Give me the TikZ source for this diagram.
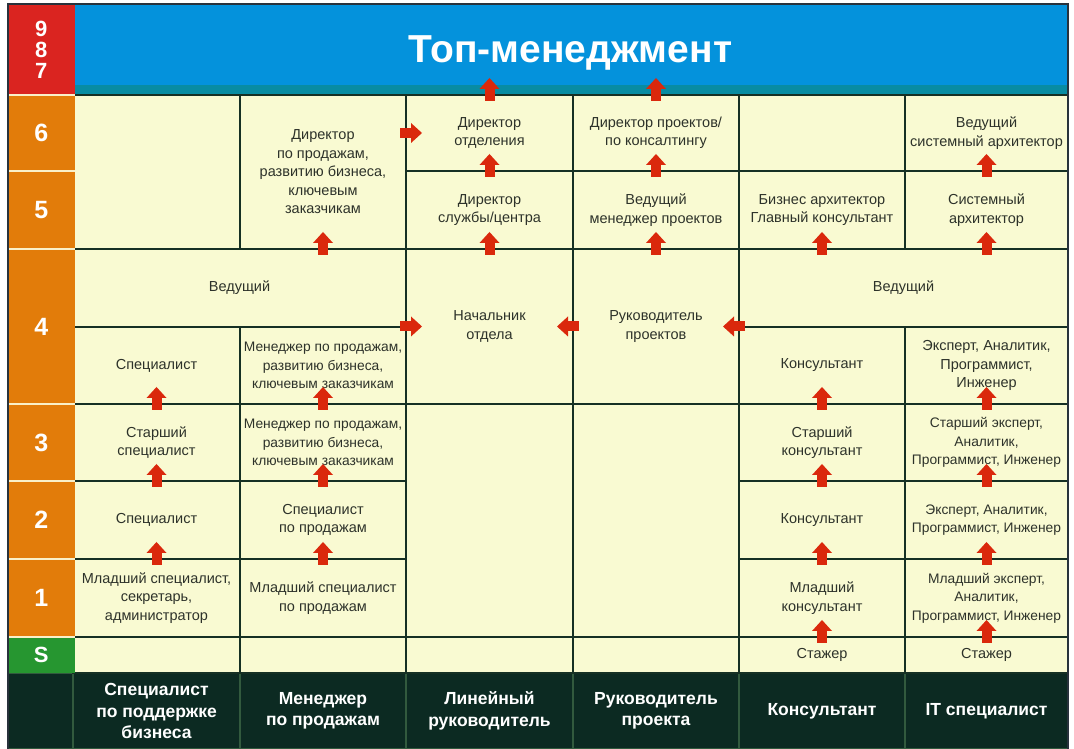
\documentclass[tikz,border=0pt]{standalone}
\usepackage{xcolor}
\usepackage{fontspec}
\setmainfont{Liberation Sans}
\usepackage{tikz}
\usetikzlibrary{arrows.meta}

\definecolor{creamc}{RGB}{249,250,210}
\definecolor{gridc}{RGB}{22,48,36}
\definecolor{textc}{RGB}{45,50,42}
\definecolor{arrowc}{RGB}{218,40,12}
\definecolor{bluec}{RGB}{4,146,220}
\definecolor{tealc}{RGB}{8,140,162}
\definecolor{orangec}{RGB}{226,124,10}
\definecolor{redc}{RGB}{218,36,32}
\definecolor{greenc}{RGB}{38,150,48}
\definecolor{darkc}{RGB}{12,42,34}
\definecolor{headlinec}{RGB}{50,90,62}
\definecolor{sepc}{RGB}{250,240,200}
\definecolor{framec}{RGB}{40,50,60}

\tikzset{
	poscell/.style={rectangle, draw=gridc, line width=2.6pt, fill=creamc, inner sep=0pt, outer sep=0pt,
		align=center, text=textc, font=\fontsize{14.5}{18.5}\selectfont},
	narrow/.style={font=\fontsize{13.8}{18.5}\selectfont},
	headcell/.style={poscell, draw=headlinec, line width=2pt, fill=darkc, text=white,
		font=\bfseries\fontsize{17.5}{21.5}\selectfont},
	lvcell/.style={rectangle, inner sep=0pt, outer sep=0pt, fill=orangec, text=white, align=center,
		font=\bfseries\fontsize{25}{20}\selectfont},
	topband/.style={rectangle, inner sep=0pt, outer sep=0pt, fill=bluec, text=white, text depth=0pt,
		font=\bfseries\fontsize{39}{40}\selectfont,
		path picture={\fill[tealc] ([yshift=10pt]path picture bounding box.south west) rectangle (path picture bounding box.south east);}},
	promo/.style={draw=arrowc, line width=10pt, -{Triangle[width=20pt,length=11pt,line width=0pt]}},
	sepline/.style={draw=sepc, line width=2pt},
	frameline/.style={draw=framec, line width=1.5pt},
}

\newcommand\putcell[7][poscell]{%
	\node[#1, minimum width={(#5-#3)*1pt}, minimum height={(#6-#4)*1pt}] (#2) at ({(#3+#5)/2},{749-(#4+#6)/2}) {#7};}

\begin{document}
\begin{tikzpicture}[x=1pt, y=1pt]
	\useasboundingbox (0,0) rectangle (1074,749);

	\putcell[headcell]{h0}{8}{673}{73}{749}{}
	\putcell[headcell]{hA}{73}{673}{240}{749}{Специалист\\по поддержке\\бизнеса}
	\putcell[headcell]{hB}{240}{673}{406}{749}{Менеджер\\по продажам}
	\putcell[headcell]{hC}{406}{673}{573}{749}{Линейный\\руководитель}
	\putcell[headcell]{hD}{573}{673}{739}{749}{Руководитель\\проекта}
	\putcell[headcell]{hE}{739}{673}{905}{749}{Консультант}
	\putcell[headcell]{hF}{905}{673}{1068}{749}{IT специалист}

	\putcell[topband]{top}{73}{4}{1068}{95}{Топ-менеджмент}

	\putcell{a65}{73}{95}{240}{249}{}
	\putcell{b65}{240}{95}{406}{249}{Директор\\по продажам,\\развитию бизнеса,\\ключевым\\заказчикам}
	\putcell{c6}{406}{95}{573}{171}{Директор\\отделения}
	\putcell{c5}{406}{171}{573}{249}{Директор\\службы/центра}
	\putcell{d6}{573}{95}{739}{171}{Директор проектов/\\по консалтингу}
	\putcell{d5}{573}{171}{739}{249}{Ведущий\\менеджер проектов}
	\putcell{e6}{739}{95}{905}{171}{}
	\putcell{e5}{739}{171}{905}{249}{Бизнес архитектор\\Главный консультант}
	\putcell{f6}{905}{95}{1068}{171}{Ведущий\\системный архитектор}
	\putcell{f5}{905}{171}{1068}{249}{Системный\\архитектор}

	\putcell{ab4}{73}{249}{406}{327}{Ведущий}
	\putcell{a4}{73}{327}{240}{404}{Специалист}
	\putcell[poscell, narrow]{b4}{240}{327}{406}{404}{Менеджер по продажам,\\развитию бизнеса,\\ключевым заказчикам}
	\putcell{c4}{406}{249}{573}{404}{Начальник\\отдела}
	\putcell{d4}{573}{249}{739}{404}{Руководитель\\проектов}
	\putcell{ef4}{739}{249}{1068}{327}{Ведущий}
	\putcell{e4}{739}{327}{905}{404}{Консультант}
	\putcell{f4}{905}{327}{1068}{404}{Эксперт, Аналитик,\\Программист,\\Инженер}

	\putcell{a3}{73}{404}{240}{481}{Старший\\специалист}
	\putcell[poscell, narrow]{b3}{240}{404}{406}{481}{Менеджер по продажам,\\развитию бизнеса,\\ключевым заказчикам}
	\putcell{c31}{406}{404}{573}{637}{}
	\putcell{d31}{573}{404}{739}{637}{}
	\putcell{e3}{739}{404}{905}{481}{Старший\\консультант}
	\putcell[poscell, narrow]{f3}{905}{404}{1068}{481}{Старший эксперт,\\Аналитик,\\Программист, Инженер}

	\putcell{a2}{73}{481}{240}{559}{Специалист}
	\putcell{b2}{240}{481}{406}{559}{Специалист\\по продажам}
	\putcell{e2}{739}{481}{905}{559}{Консультант}
	\putcell[poscell, narrow]{f2}{905}{481}{1068}{559}{Эксперт, Аналитик,\\Программист, Инженер}

	\putcell{a1}{73}{559}{240}{637}{Младший специалист,\\секретарь,\\администратор}
	\putcell{b1}{240}{559}{406}{637}{Младший специалист\\по продажам}
	\putcell{e1}{739}{559}{905}{637}{Младший\\консультант}
	\putcell[poscell, narrow]{f1}{905}{559}{1068}{637}{Младший эксперт,\\Аналитик,\\Программист, Инженер}

	\putcell{aS}{73}{637}{240}{673}{}
	\putcell{bS}{240}{637}{406}{673}{}
	\putcell{cS}{406}{637}{573}{673}{}
	\putcell{dS}{573}{637}{739}{673}{}
	\putcell{eS}{739}{637}{905}{673}{Стажер}
	\putcell{fS}{905}{637}{1068}{673}{Стажер}

	\putcell[lvcell, fill=redc, font=\bfseries\fontsize{22}{21}\selectfont]{lv9}{8}{4}{74.5}{95}{9\\8\\7}
	\putcell[lvcell]{lv6}{8}{95}{74.5}{171}{6}
	\putcell[lvcell]{lv5}{8}{171}{74.5}{249}{5}
	\putcell[lvcell]{lv4}{8}{249}{74.5}{404}{4}
	\putcell[lvcell]{lv3}{8}{404}{74.5}{481}{3}
	\putcell[lvcell]{lv2}{8}{481}{74.5}{559}{2}
	\putcell[lvcell]{lv1}{8}{559}{74.5}{637}{1}
	\putcell[lvcell, fill=greenc, font=\bfseries\fontsize{22}{20}\selectfont]{lvS}{8}{637}{74.5}{673}{S}

	\foreach \n in {lv6,lv5,lv4,lv3,lv2,lv1,lvS}
		\draw[sepline] (\n.north west) -- (\n.north east);

	\draw[frameline] (h0.south west) -- (lv9.north west) -- (top.north east) -- (hF.south east);

	\foreach \n in {a3,a2,a1,b3,b2,b1,c6,c5,c4,d6,d5,d4,e3,e2,e1,eS,f5,f3,f2,f1,fS}
		\draw[promo] ([yshift=-6pt]\n.north) -- ([yshift=17pt]\n.north);
	\foreach \n in {b65,e5,f5}
		\draw[promo] ([yshift=-6pt]\n.south) -- ([yshift=17pt]\n.south);

	\draw[promo] ([xshift=-6pt]c6.west) -- ([xshift=16pt]c6.west);
	\draw[promo] ([xshift=-6pt]c4.west) -- ([xshift=16pt]c4.west);
	\draw[promo] ([xshift=6pt]d4.west) -- ([xshift=-16pt]d4.west);
	\draw[promo] ([xshift=6pt]d4.east) -- ([xshift=-16pt]d4.east);
\end{tikzpicture}
\end{document}
